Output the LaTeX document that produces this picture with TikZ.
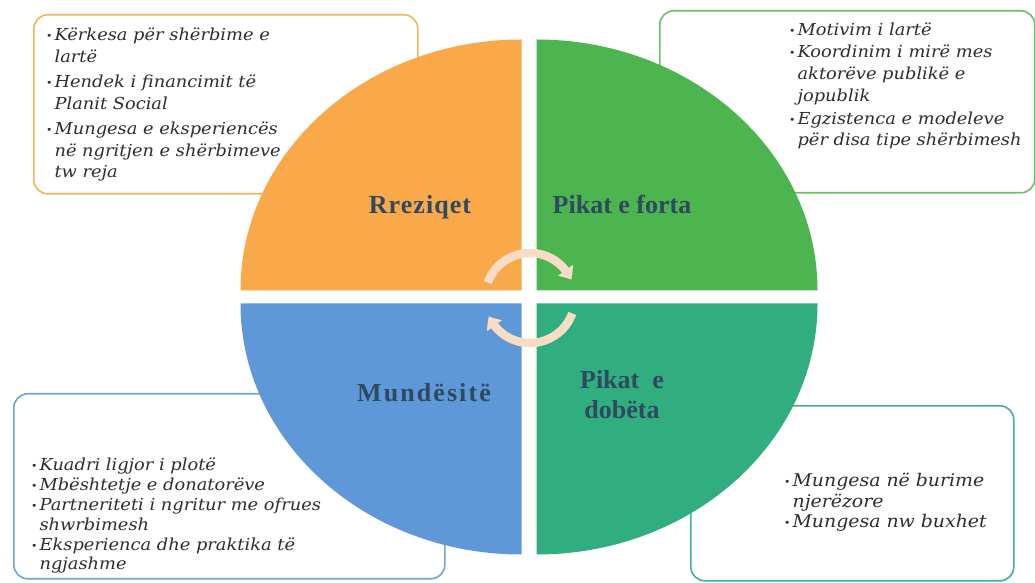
\documentclass[tikz,border=0pt]{standalone}
\usepackage{fontspec}
\setmainfont{Liberation Serif}
\newfontfamily\boxfont[FakeStretch=1.08]{DejaVu Serif}
\usetikzlibrary{arrows.meta,bending,calc}
\definecolor{qorange}{HTML}{F9A94A}
\definecolor{qgreen}{HTML}{4DB54F}
\definecolor{qblue}{HTML}{5F98D8}
\definecolor{qteal}{HTML}{30AE80}
\definecolor{borange}{HTML}{F6B457}
\definecolor{bgreen}{HTML}{6DBF6B}
\definecolor{bblue}{HTML}{6FA3DC}
\definecolor{bteal}{HTML}{40B28C}
\definecolor{lbl}{HTML}{2E4A5E}
\definecolor{txt}{HTML}{2E2E2E}
\definecolor{arrc}{HTML}{F8DCC6}
\newcommand{\bul}{{\fontsize{10}{10}\selectfont\raisebox{1pt}{•}}}
\begin{document}
\begin{tikzpicture}[x=1pt,y=1pt,
  infobox/.style={draw=#1, line width=1.6pt, rounded corners=14pt, fill=white, inner sep=0pt, anchor=north west},
  boxtxt/.style={inner sep=0pt, anchor=base west, text=txt, font=\boxfont\itshape\fontsize{16.5}{21.7}\selectfont},
  boxtxtb/.style={boxtxt, font=\boxfont\itshape\fontsize{16.5}{19.2}\selectfont},
  quadlbl/.style={text=lbl, font=\bfseries\fontsize{26}{30}\selectfont, inner sep=0pt, anchor=base, align=center},
  cyc/.style={draw=arrc, line width=8.5pt, -{Triangle[width=18pt,length=11pt,bend]}}
]
\useasboundingbox (0,0) rectangle (1035,583);
% boxes
\node[infobox=borange, minimum width=384pt, minimum height=179pt] (tlbox) at (33,569) {};
\node[infobox=bgreen, minimum width=375pt, minimum height=182pt] (trbox) at (659,573) {};
\node[infobox=bblue, minimum width=431pt, minimum height=185pt] (blbox) at (13,190) {};
\node[infobox=bteal, minimum width=323pt, minimum height=175pt] (brbox) at (690,178) {};
% box texts
\node[boxtxt] (tltext) at (46,542) {\begin{tabular}[t]{@{}l@{\hspace{2pt}}l@{}}
\bul & Kërkesa për shërbime e\\ & lartë\\[3.3pt]
\bul & Hendek i financimit të\\ & Planit Social\\[3.3pt]
\bul & Mungesa e eksperiencës\\ & në ngritjen e shërbimeve\\ & tw reja
\end{tabular}};
\node[boxtxt] (trtext) at (789,547) {\begin{tabular}[t]{@{}l@{\hspace{2pt}}l@{}}
\bul & Motivim i lartë\\[0pt]
\bul & Koordinim i mirë mes\\ & aktorëve publikë e\\ & jopublik\\[1.5pt]
\bul & Egzistenca e modeleve\\ & për disa tipe shërbimesh
\end{tabular}};
\node[boxtxtb] (bltext) at (31,112) {\begin{tabular}[t]{@{}l@{\hspace{2pt}}l@{}}
\bul & Kuadri ligjor i plotë\\
\bul & Mbështetje e donatorëve\\[1.5pt]
\bul & Partneriteti i ngritur me ofrues\\ & shwrbimesh\\[1.5pt]
\bul & Eksperienca dhe praktika të\\ & ngjashme
\end{tabular}};
\node[boxtxt, font=\boxfont\itshape\fontsize{17.5}{20.5}\selectfont] (brtext) at (784,96) {\begin{tabular}[t]{@{}l@{\hspace{2pt}}l@{}}
\bul & Mungesa në burime\\ & njerëzore\\
\bul & Mungesa nw buxhet
\end{tabular}};
% quadrants
\fill[qorange] (521.5,292.5) -- ++(-281,0) arc[start angle=180,end angle=90,x radius=281,y radius=251] -- cycle;
\fill[qgreen] (536.5,292.5) -- ++(0,251) arc[start angle=90,end angle=0,x radius=281,y radius=251] -- cycle;
\fill[qblue] (521.5,279.5) -- ++(0,-251) arc[start angle=270,end angle=180,x radius=281,y radius=251] -- cycle;
\fill[qteal] (536.5,279.5) -- ++(281,0) arc[start angle=0,end angle=-90,x radius=281,y radius=251] -- cycle;
% cycle arrows
\coordinate (c) at (530,285);
\draw[cyc] ($(c)+(160:45)$) arc[start angle=160,end angle=24,radius=45];
\draw[cyc] ($(c)+(-20:45)$) arc[start angle=-20,end angle=-156,radius=45];
% labels
\node[quadlbl] (risk) at (420,369) {\addfontfeature{LetterSpace=4}Rreziqet};
\node[quadlbl] (str) at (622,369) {Pikat e forta};
\node[quadlbl] (opp) at (424,181) {\addfontfeature{LetterSpace=8}Mundësitë};
\node[quadlbl] (weak) at (622,164) {Pikat\ \ e\\dobëta};
\end{tikzpicture}
\end{document}
